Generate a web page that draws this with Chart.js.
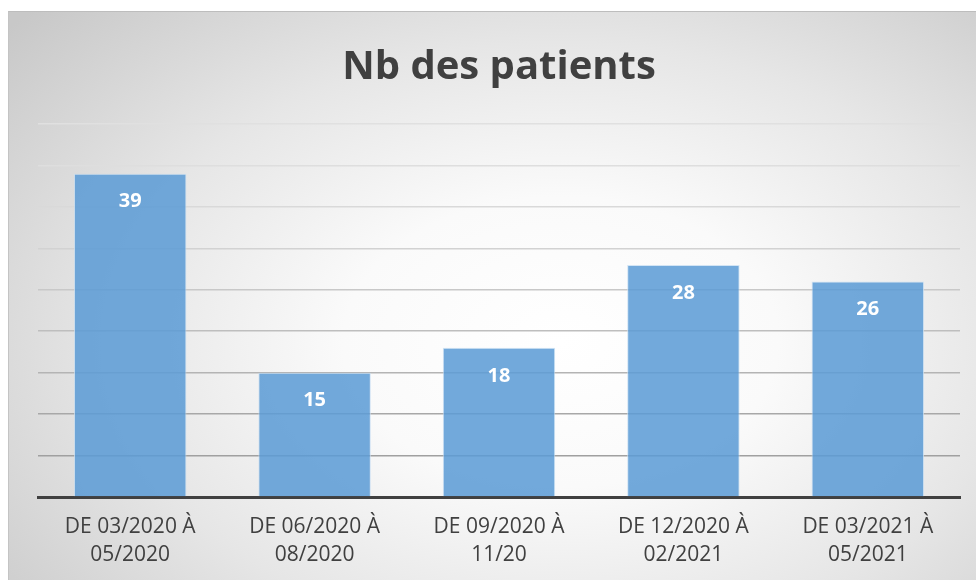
<!DOCTYPE html>
<html>
<head>
<meta charset="utf-8">
<script src="https://cdn.jsdelivr.net/npm/chart.js@4"></script>
<style>
  html, body { margin: 0; padding: 0; background: #fff; }
  body { width: 976px; height: 580px; position: relative; overflow: hidden; }
  #panel {
    position: absolute; left: 8px; top: 11px; width: 968px; height: 569px;
    border-top: 1px solid #bdbdbd; border-left: 1px solid #c4c4c4;
    background: radial-gradient(ellipse 75% 85% at 57% 58%, #ffffff 0%, #fafafa 30%, #e6e6e6 62%, #c8c8c8 100%);
  }
  #chart { position: absolute; left: 0; top: 0; }
</style>
</head>
<body>
<div id="panel"><canvas id="chart" width="967" height="568"></canvas></div>
<script>
// Data
const periods = [
    ['DE 03/2020 À', '05/2020'],
    ['DE 06/2020 À', '08/2020'],
    ['DE 09/2020 À', '11/20'],
    ['DE 12/2020 À', '02/2021'],
    ['DE 03/2021 À', '05/2021']
];
const patients = [39, 15, 18, 28, 26];
const yMax = 45;
const yStep = 5;

// Grid line shades (lighter near the top)
const gridShades = ['#404040', '#a0a0a0', '#a8a8a8', '#b4b4b4', '#bebebe', '#c8c8c8', '#d2d2d2', '#d9d9d9', '#dedede', '#e0e0e0'];

// Value labels inside the bars
const barLabels = {
    id: 'barLabels',
    afterDatasetsDraw(chart) {
        const ctx = chart.ctx;
        const meta = chart.getDatasetMeta(0);
        ctx.save();
        ctx.fillStyle = '#ffffff';
        ctx.font = 'bold 20px "Open Sans", sans-serif';
        ctx.textAlign = 'center';
        ctx.textBaseline = 'middle';
        meta.data.forEach((bar, i) => {
            ctx.fillText(patients[i], bar.x, bar.y + 28);
        });
        ctx.restore();
    }
};

const ctx = document.getElementById('chart').getContext('2d');
new Chart(ctx, {
    type: 'bar',
    data: {
        labels: periods,
        datasets: [{
            label: 'Nb des patients',
            data: patients,
            backgroundColor: 'rgba(91, 155, 213, 0.86)',
            borderColor: 'rgba(200, 222, 242, 0.8)',
            borderWidth: 1,
            categoryPercentage: 0.61,
            barPercentage: 1.0
        }]
    },
    options: {
        responsive: false,
        animation: false,
        layout: { padding: { left: 29, right: 16, top: 0, bottom: 11 } },
        plugins: {
            legend: { display: false },
            tooltip: { enabled: false },
            title: {
                display: true,
                text: 'Nb des patients',
                color: '#404040',
                font: { family: '"Open Sans", sans-serif', size: 40, weight: 'bold', lineHeight: 1.2 },
                padding: { top: 32, bottom: 32 }
            }
        },
        scales: {
            x: {
                grid: { display: false, drawTicks: false },
                border: { display: true, color: '#404040', width: 3 },
                afterFit: scale => { scale.height = 72; },
                ticks: {
                    color: '#404040',
                    padding: 16,
                    maxRotation: 0,
                    autoSkip: false,
                    font: { family: '"Open Sans", sans-serif', size: 21, lineHeight: 1.33 }
                }
            },
            y: {
                min: 0,
                max: yMax,
                display: true,
                border: { display: false },
                ticks: { display: false, stepSize: yStep },
                grid: {
                    drawTicks: false,
                    lineWidth: 1.5,
                    color: c => gridShades[c.index] || '#dddddd'
                }
            }
        }
    },
    plugins: [barLabels]
});
</script>
</body>
</html>
